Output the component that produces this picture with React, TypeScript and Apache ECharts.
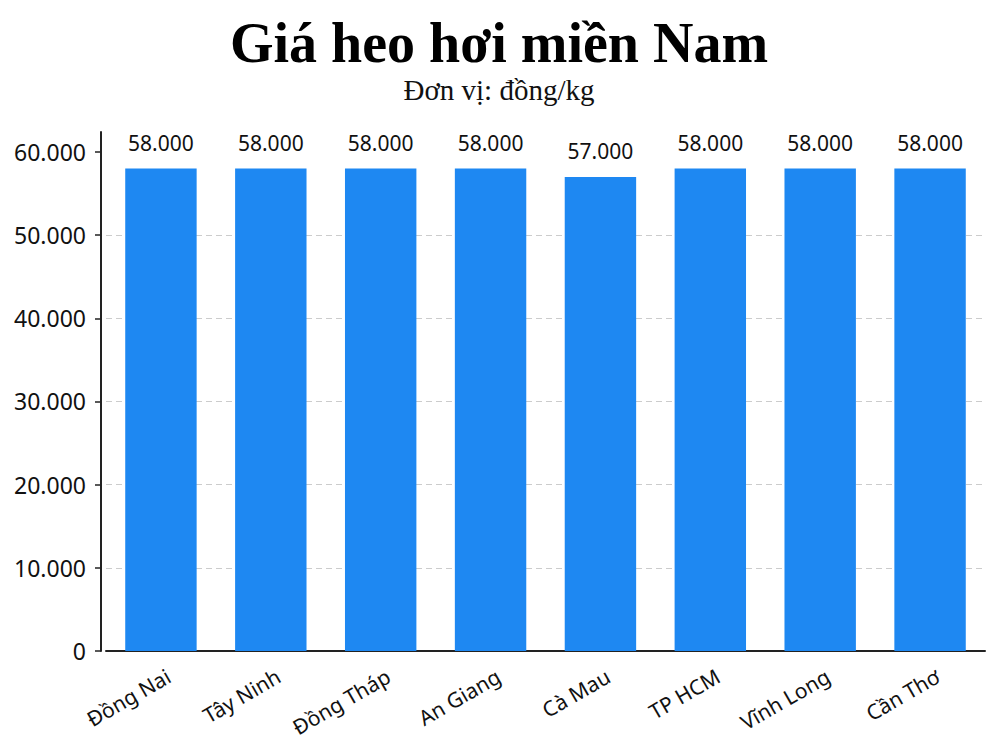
import React, { useEffect, useRef } from 'react';
import * as echarts from 'echarts';

const provinces = ['Đồng Nai', 'Tây Ninh', 'Đồng Tháp', 'An Giang', 'Cà Mau', 'TP HCM', 'Vĩnh Long', 'Cần Thơ'];
const prices = [58000, 58000, 58000, 58000, 57000, 58000, 58000, 58000];
const yTicks = [0, 10000, 20000, 30000, 40000, 50000, 60000];

const fmt = (v: number) => (v === 0 ? '0' : v.toLocaleString('de-DE'));

const App: React.FC = () => {
  const chartRef = useRef<HTMLDivElement>(null);

  useEffect(() => {
    if (!chartRef.current) return;
    const myChart = echarts.init(chartRef.current, null, { renderer: 'svg' });
    const option = {
      animation: false,
      backgroundColor: '#fff',
      title: {
        text: 'Giá heo hơi miền Nam',
        subtext: 'Đơn vị: đồng/kg',
        left: 'center',
        top: 10,
        itemGap: 4,
        textStyle: { fontFamily: 'Liberation Serif', fontWeight: 'bold', fontSize: 56, color: '#000' },
        subtextStyle: { fontFamily: 'Liberation Serif', fontSize: 29, color: '#111' }
      },
      grid: { left: 106, right: 13, top: 132, bottom: 97, containLabel: false },
      xAxis: {
        type: 'category',
        data: provinces,
        axisLine: { lineStyle: { color: '#222', width: 2 } },
        axisTick: { alignWithLabel: true, length: 6, lineStyle: { color: '#222', width: 1.5 } },
        axisLabel: {
          rotate: 30,
          fontFamily: 'Noto Sans',
          fontSize: 21,
          color: '#111',
          margin: 10,
          verticalAlign: 'top',
          padding: [5, 0, 0, 0]
        }
      },
      yAxis: {
        type: 'value',
        min: 0,
        max: 62400,
        interval: 10000,
        offset: 5,
        axisLine: { show: true, lineStyle: { color: '#222', width: 2 } },
        axisTick: { show: true, length: 6, customValues: yTicks, lineStyle: { color: '#222', width: 1.5 } },
        axisLabel: {
          customValues: yTicks,
          formatter: (v: number) => fmt(v),
          fontFamily: 'Noto Sans',
          fontSize: 23,
          color: '#111',
          margin: 15
        },
        splitLine: { show: true, showMaxLine: false, lineStyle: { color: '#ccc', type: [6, 4], width: 1 } }
      },
      series: [
        {
          type: 'bar',
          data: prices,
          barWidth: '65%',
          itemStyle: { color: '#1E88F2' },
          label: {
            show: true,
            position: 'top',
            distance: 15,
            formatter: (p: any) => fmt(p.value),
            fontFamily: 'Noto Sans',
            fontSize: 21,
            color: '#111'
          }
        }
      ]
    };
    myChart.setOption(option);
    return () => { myChart.dispose(); };
  }, []);

  return <div ref={chartRef} style={{ width: 998, height: 748, margin: -8 }} />;
};

export default App;
